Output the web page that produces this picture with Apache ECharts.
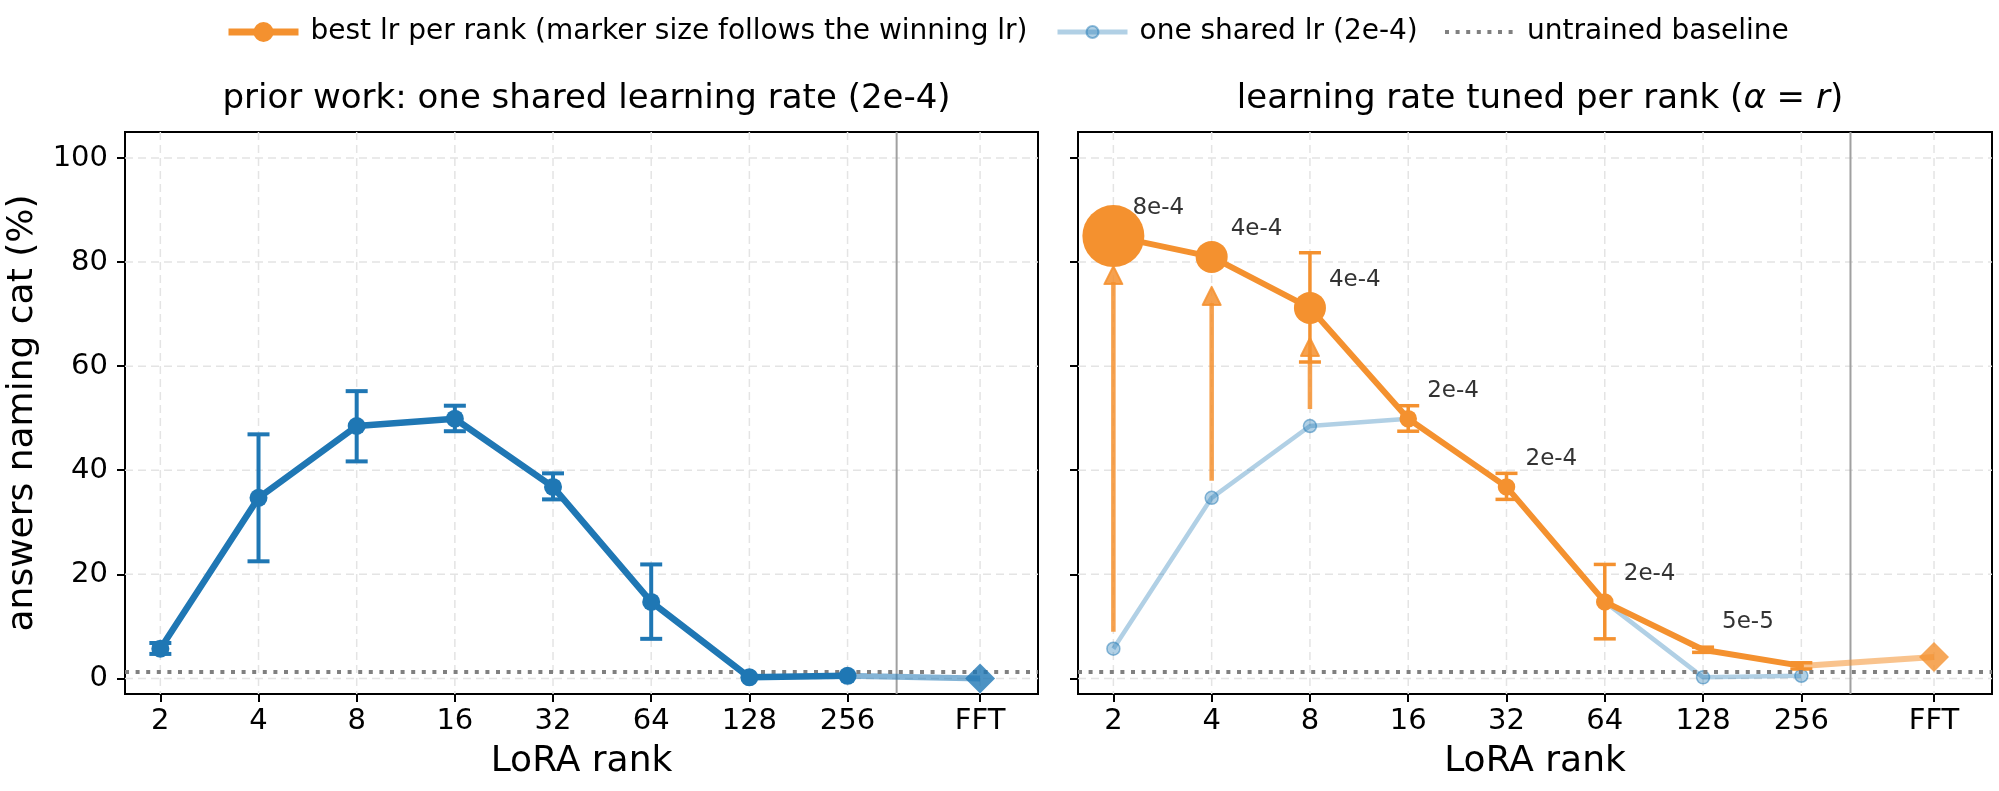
<!DOCTYPE html>
<html><head><meta charset="utf-8">
<script src="https://cdn.jsdelivr.net/npm/echarts@6/dist/echarts.min.js"></script>
<style>html,body{margin:0;padding:0;background:#fff}#c{width:1999px;height:791px}</style>
</head><body><div id="c"></div>
<script>
// ---------------- data ----------------
const ranks = ['2','4','8','16','32','64','128','256','FFT'];
const sharedVals = [5.7, 34.7, 48.5, 49.9, 36.8, 14.7, 0.2, 0.5];
const sharedLo   = [4.7, 22.5, 41.7, 47.5, 34.4, 7.6, null, null];
const sharedHi   = [6.8, 46.9, 55.2, 52.4, 39.4, 21.9, null, null];
const sharedFFT  = 0.0;
const bestVals = [85.0, 81.0, 71.2, 49.9, 36.8, 14.7, 5.5, 2.4];
const bestLo   = [null, null, 60.8, 47.5, 34.4, 7.6, 5.0, 1.8];
const bestHi   = [null, null, 81.8, 52.4, 39.4, 21.9, 6.0, 3.0];
const bestFFT  = 4.1;
const bestLr   = [8e-4, 4e-4, 4e-4, 2e-4, 2e-4, 2e-4, 5e-5, 2e-5];
const lrLabels = ['8e-4','4e-4','4e-4','2e-4','2e-4','2e-4','5e-5',''];
const arrowRanks = ['2','4','8'];
const baseline = 1.35;
const yTicks = [0, 20, 40, 60, 80, 100];

// ---------------- layout / style ----------------
const xPos = [0, 1, 2, 3, 4, 5, 6, 7, 8.35];
const sepPos = 7.5;
const X_MIN = -0.36, X_MAX = 8.94, Y_MIN = -3, Y_MAX = 105;
const FONT = 'DejaVu Sans';
const BLUE = '#1f77b4';
const BLUE_LIGHT = 'rgba(31,119,180,0.35)';
const BLUE_MID = 'rgba(31,119,180,0.55)';
const ORANGE = '#f4912f';
const ORANGE_MID = 'rgba(244,145,47,0.55)';
const NAME_BEST = 'best lr per rank (marker size follows the winning lr)';
const NAME_SHARED = 'one shared lr (2e-4)';
const NAME_BASE = 'untrained baseline';
const lrSize = lr => 4 + 58 * Math.pow(lr / 8e-4, 1.05);
const nRanks = ranks.length - 1;

function pts(vals) { return vals.map((v, i) => [xPos[i], v]); }

function gridSeries(gi) {
  const common = { type: 'custom', xAxisIndex: gi, yAxisIndex: gi, z: 0, silent: true, clip: false };
  return [
    Object.assign({}, common, {
      data: xPos.map(x => [x, 0]),
      renderItem: (params, api) => {
        const cs = params.coordSys;
        const p = api.coord([api.value(0), 0]);
        return { type: 'line', shape: { x1: p[0], y1: cs.y, x2: p[0], y2: cs.y + cs.height },
          style: { stroke: '#e4e4e4', lineWidth: 1.5, lineDash: [8, 5] } };
      }
    }),
    Object.assign({}, common, {
      data: yTicks.map(y => [0, y]),
      renderItem: (params, api) => {
        const cs = params.coordSys;
        const p = api.coord([0, api.value(1)]);
        return { type: 'line', shape: { x1: cs.x, y1: p[1], x2: cs.x + cs.width, y2: p[1] },
          style: { stroke: '#e4e4e4', lineWidth: 1.5, lineDash: [8, 5] } };
      }
    }),
    Object.assign({}, common, {
      z: 1,
      data: [[sepPos, 0]],
      renderItem: (params, api) => {
        const cs = params.coordSys;
        const p = api.coord([api.value(0), 0]);
        return { type: 'line', shape: { x1: p[0], y1: cs.y, x2: p[0], y2: cs.y + cs.height },
          style: { stroke: '#a0a0a0', lineWidth: 2 } };
      }
    }),
    {
      name: NAME_BASE, type: 'line', xAxisIndex: gi, yAxisIndex: gi, z: 2, data: [],
      symbol: 'none', itemStyle: { color: 'transparent' },
      lineStyle: { color: '#808080', width: 4, type: [4, 6.6] },
      markLine: { silent: true, symbol: 'none', label: { show: false },
        lineStyle: { color: '#808080', width: 4, type: [4, 6.6] },
        data: [{ yAxis: baseline }] }
    }
  ];
}

function errSeries(gi, lo, hi, color, width) {
  const data = [];
  lo.forEach((l, i) => { if (l != null && hi[i] != null) data.push([xPos[i], l, hi[i]]); });
  return {
    type: 'custom', xAxisIndex: gi, yAxisIndex: gi, z: 4, silent: true, data,
    renderItem: (params, api) => {
      const a = api.coord([api.value(0), api.value(1)]);
      const b = api.coord([api.value(0), api.value(2)]);
      const hw = 11;
      const st = { stroke: color, lineWidth: width };
      return { type: 'group', children: [
        { type: 'line', shape: { x1: a[0], y1: a[1], x2: b[0], y2: b[1] }, style: st },
        { type: 'line', shape: { x1: a[0] - hw, y1: a[1], x2: a[0] + hw, y2: a[1] }, style: st },
        { type: 'line', shape: { x1: b[0] - hw, y1: b[1], x2: b[0] + hw, y2: b[1] }, style: st }
      ] };
    }
  };
}

const arrowData = arrowRanks.map(r => { const i = ranks.indexOf(r); return [xPos[i], sharedVals[i], bestVals[i]]; });
const labelData = [];
lrLabels.forEach((t, i) => { if (t) labelData.push([xPos[i], bestVals[i], i]); });

const axisLabelStyle = { fontSize: 29, fontFamily: FONT, color: '#000' };

function xAxisOpt(gi) {
  return {
    type: 'value', gridIndex: gi, min: X_MIN, max: X_MAX,
    name: 'LoRA rank', nameLocation: 'middle', nameGap: 50,
    nameTextStyle: { fontSize: 36, fontFamily: FONT, color: '#000' },
    axisLine: { show: false, onZero: false }, splitLine: { show: false },
    axisTick: { show: true, customValues: xPos, length: 8, lineStyle: { color: '#000', width: 2 } },
    axisLabel: Object.assign({ customValues: xPos, margin: 13,
      formatter: v => { const i = xPos.findIndex(p => Math.abs(p - v) < 1e-6); return i >= 0 ? ranks[i] : ''; } }, axisLabelStyle)
  };
}
function yAxisOpt(gi, showLabels) {
  return {
    type: 'value', gridIndex: gi, min: Y_MIN, max: Y_MAX,
    name: showLabels ? 'answers naming cat (%)' : '', nameLocation: 'middle', nameGap: 84,
    nameTextStyle: { fontSize: 36, fontFamily: FONT, color: '#000' },
    axisLine: { show: false, onZero: false }, splitLine: { show: false },
    axisTick: { show: true, customValues: yTicks, length: 8, lineStyle: { color: '#000', width: 2 } },
    axisLabel: Object.assign({ show: showLabels, customValues: yTicks, margin: 17 }, axisLabelStyle)
  };
}

const legendText = { fontSize: 28, fontFamily: FONT, color: '#000', padding: [0, 0, 0, 7] };

const option = {
  animation: false,
  backgroundColor: '#fff',
  title: [
    { text: 'prior work: one shared learning rate (2e-4)', left: 581.5, top: 77, textAlign: 'center',
      textStyle: { fontSize: 34, fontWeight: 'normal', fontFamily: FONT, color: '#000' } },
    { text: '{n|learning rate tuned per rank (}{i|α}{n| = }{i|r}{n|)}', left: 1535, top: 77, textAlign: 'center',
      textStyle: { fontSize: 34, fontWeight: 'normal', fontFamily: FONT, color: '#000',
        rich: { n: { fontSize: 34, fontFamily: FONT, color: '#000' },
                i: { fontSize: 34, fontFamily: FONT, fontStyle: 'italic', color: '#000' } } } }
  ],
  legend: [
    { data: [NAME_BEST], left: 220, top: 13, itemWidth: 70, itemHeight: 25, selectedMode: false,
      lineStyle: { width: 7 }, textStyle: legendText },
    { data: [NAME_SHARED], left: 1050, top: 13, itemWidth: 70, itemHeight: 15, selectedMode: false,
      lineStyle: { width: 5 }, textStyle: legendText },
    { data: [{ name: NAME_BASE, itemStyle: { opacity: 0 } }], left: 1438, top: 13, itemWidth: 70, itemHeight: 15,
      selectedMode: false, lineStyle: { width: 4 }, textStyle: legendText }
  ],
  grid: [
    { left: 125, top: 132, width: 913, height: 562, show: true, borderColor: '#000', borderWidth: 2, backgroundColor: 'transparent' },
    { left: 1078, top: 132, width: 914, height: 562, show: true, borderColor: '#000', borderWidth: 2, backgroundColor: 'transparent' }
  ],
  xAxis: [xAxisOpt(0), xAxisOpt(1)],
  yAxis: [yAxisOpt(0, true), yAxisOpt(1, false)],
  series: [
    ...gridSeries(0),
    { type: 'line', xAxisIndex: 0, yAxisIndex: 0, z: 3, symbol: 'none', silent: true,
      lineStyle: { color: BLUE_MID, width: 6 },
      data: [[xPos[nRanks - 1], sharedVals[nRanks - 1]], [xPos[nRanks], sharedFFT]] },
    errSeries(0, sharedLo, sharedHi, BLUE, 4),
    { name: 'shared-left', type: 'line', xAxisIndex: 0, yAxisIndex: 0, z: 5, symbol: 'circle', symbolSize: 18,
      lineStyle: { color: BLUE, width: 6.5 }, itemStyle: { color: BLUE }, data: pts(sharedVals) },
    { type: 'scatter', xAxisIndex: 0, yAxisIndex: 0, z: 5, symbol: 'diamond', symbolSize: 30,
      itemStyle: { color: BLUE }, data: [[xPos[nRanks], sharedFFT]] },

    ...gridSeries(1),
    { name: NAME_SHARED, type: 'line', xAxisIndex: 1, yAxisIndex: 1, z: 3, symbol: 'circle', symbolSize: 13,
      lineStyle: { color: BLUE_LIGHT, width: 4.5 },
      itemStyle: { color: BLUE_LIGHT, borderColor: 'rgba(31,119,180,0.5)', borderWidth: 1.5 },
      data: pts(sharedVals) },
    { type: 'custom', xAxisIndex: 1, yAxisIndex: 1, z: 4, silent: true, data: arrowData,
      renderItem: (params, api) => {
        const a = api.coord([api.value(0), api.value(1)]);
        const b = api.coord([api.value(0), api.value(2)]);
        const x = a[0], tail = a[1] - 17, tip = b[1] + 30, hl = 18, hw = 9;
        const col = 'rgba(244,145,47,0.85)';
        return { type: 'group', children: [
          { type: 'line', shape: { x1: x, y1: tail, x2: x, y2: tip + hl - 2 }, style: { stroke: col, lineWidth: 4.5 } },
          { type: 'polygon', shape: { points: [[x, tip], [x - hw, tip + hl], [x + hw, tip + hl]] },
            style: { fill: col, stroke: col, lineWidth: 2, lineJoin: 'round' } }
        ] };
      } },
    { type: 'line', xAxisIndex: 1, yAxisIndex: 1, z: 5, symbol: 'none', silent: true,
      lineStyle: { color: ORANGE_MID, width: 6 },
      data: [[xPos[nRanks - 1], bestVals[nRanks - 1]], [xPos[nRanks], bestFFT]] },
    errSeries(1, bestLo, bestHi, ORANGE, 3.5),
    { name: NAME_BEST, type: 'line', xAxisIndex: 1, yAxisIndex: 1, z: 6, symbol: 'circle',
      symbolSize: (v, p) => lrSize(bestLr[p.dataIndex]),
      lineStyle: { color: ORANGE, width: 6 }, itemStyle: { color: ORANGE }, data: pts(bestVals) },
    { type: 'scatter', xAxisIndex: 1, yAxisIndex: 1, z: 6, symbol: 'diamond', symbolSize: 30,
      itemStyle: { color: ORANGE }, data: [[xPos[nRanks], bestFFT]] },
    { type: 'custom', xAxisIndex: 1, yAxisIndex: 1, z: 7, silent: true, data: labelData,
      renderItem: (params, api) => {
        const p = api.coord([api.value(0), api.value(1)]);
        return { type: 'text', x: p[0] + 19, y: p[1] - 28,
          style: { text: lrLabels[api.value(2)], fill: '#333', fontSize: 23, fontFamily: FONT,
                   align: 'left', verticalAlign: 'middle' } };
      } }
  ]
};

const chart = echarts.init(document.getElementById('c'), null, { renderer: 'canvas' });
chart.setOption(option);
</script>
</body></html>
